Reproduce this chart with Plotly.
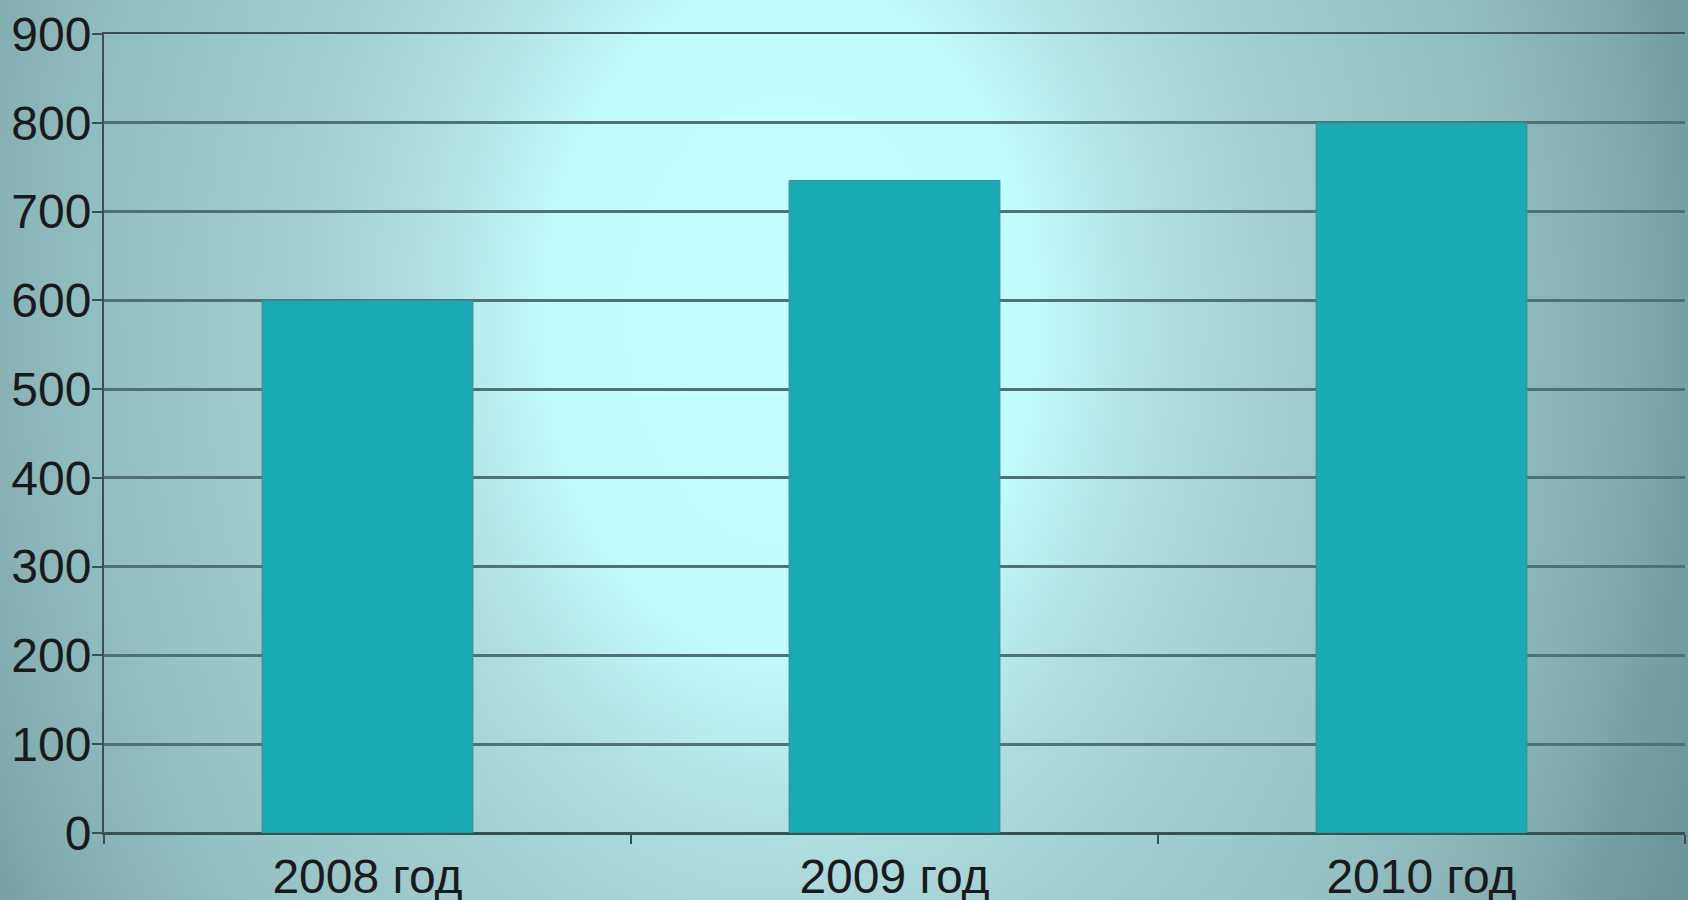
"""Bar chart: values by year, on a radial cyan backdrop."""
import base64

import plotly.graph_objects as go

# Data
YEARS = ["2008 год", "2009 год", "2010 год"]
VALUES = [600, 735, 800]
Y_TICKS = [0, 100, 200, 300, 400, 500, 600, 700, 800, 900]

# Colors
BAR = "#19abb4"
BAR_EDGE = "#3f8a8f"
GRID = "#4f7375"
AXIS = "#3a5051"
TEXT = "#1a1a1a"

W, H = 1688, 900
MARGIN = dict(l=104, r=3, t=34, b=67)

# Radial gradient backdrop as an inline svg (wider falloff vertically)
BG_SVG = f"""<svg xmlns="http://www.w3.org/2000/svg" width="{W}" height="{H}" viewBox="0 0 {W} {H}" preserveAspectRatio="none">
<defs>
<radialGradient id="g" gradientUnits="userSpaceOnUse" cx="0" cy="0" r="1"
 gradientTransform="translate(790 320) scale(980 1350)">
<stop offset="0" stop-color="#c4ffff"/>
<stop offset="0.25" stop-color="#c1fbfc"/>
<stop offset="0.38" stop-color="#afdee0"/>
<stop offset="0.5" stop-color="#a2d0d2"/>
<stop offset="0.68" stop-color="#95c2c5"/>
<stop offset="0.8" stop-color="#88b4b8"/>
<stop offset="0.87" stop-color="#7eaaae"/>
<stop offset="0.93" stop-color="#729ea2"/>
<stop offset="1" stop-color="#6a9497"/>
</radialGradient>
</defs>
<rect x="0" y="0" width="{W}" height="{H}" fill="url(#g)"/>
</svg>"""
bg_src = "data:image/svg+xml;base64," + base64.b64encode(BG_SVG.encode()).decode()

plot_w = W - MARGIN["l"] - MARGIN["r"]
plot_h = H - MARGIN["t"] - MARGIN["b"]

fig = go.Figure(go.Bar(
    x=YEARS,
    y=VALUES,
    marker=dict(color=BAR, line=dict(color=BAR_EDGE, width=1)),
    hoverinfo="x+y",
))

fig.add_layout_image(
    source=bg_src,
    xref="paper", yref="paper",
    x=-MARGIN["l"] / plot_w, y=1 + MARGIN["t"] / plot_h,
    sizex=W / plot_w, sizey=H / plot_h,
    xanchor="left", yanchor="top",
    sizing="stretch",
    layer="below",
)

fig.update_layout(
    width=W,
    height=H,
    margin=MARGIN,
    paper_bgcolor="#7aaaae",
    plot_bgcolor="rgba(0,0,0,0)",
    bargap=0.6,
    showlegend=False,
    font=dict(family="Liberation Sans, Arial, sans-serif", size=48, color=TEXT),
)
fig.update_xaxes(
    automargin=False,
    showline=True, linecolor=AXIS, linewidth=2, mirror=True,
    ticks="outside", tickson="boundaries", ticklen=9, tickwidth=2, tickcolor=AXIS,
    ticklabelstandoff=0,
    showgrid=False,
)
fig.update_yaxes(
    automargin=False,
    range=[0, 900],
    tickvals=Y_TICKS,
    showline=True, linecolor=AXIS, linewidth=2,
    ticks="outside", ticklen=10, tickwidth=2, tickcolor=AXIS,
    ticklabelstandoff=-9,
    showgrid=True, gridcolor=GRID, gridwidth=2.5,
    zeroline=True, zerolinecolor=AXIS, zerolinewidth=2,
)

# page body has a default margin; drop it so the figure fills the window
fig.write_html(
    "out.html",
    config={"displayModeBar": False},
    post_script="document.body.style.margin='0';",
)
